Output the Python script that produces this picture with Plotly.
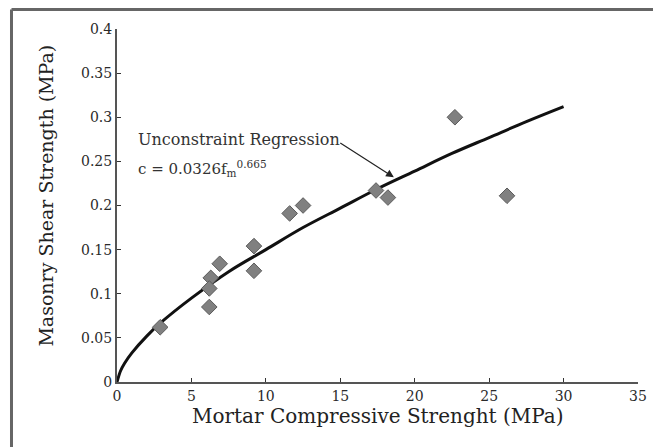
import plotly.graph_objects as go

# Measured data points (mortar compressive strength vs masonry shear strength)
fm = [2.9, 6.2, 6.3, 6.2, 6.9, 9.2, 9.2, 11.6, 12.5, 17.4, 18.2, 22.7, 26.2]
tau = [0.062, 0.085, 0.118, 0.106, 0.134, 0.154, 0.126, 0.191, 0.200, 0.217, 0.209, 0.300, 0.211]

# Regression curve values
curve_x = [0, 0.25, 0.5, 1, 2, 3, 5, 7.5, 10, 12.5, 15, 17.5, 20, 22.5, 25, 27.5, 30]
curve_y = [0.0, 0.013, 0.021, 0.033, 0.052, 0.068, 0.095, 0.125, 0.150, 0.175, 0.197, 0.219, 0.239, 0.259, 0.277, 0.295, 0.312]

x_ticks = [0, 5, 10, 15, 20, 25, 30, 35]
y_ticks = [0, 0.05, 0.1, 0.15, 0.2, 0.25, 0.3, 0.35, 0.4]
y_tick_labels = ["0", "0.05", "0.1", "0.15", "0.2", "0.25", "0.3", "0.35", "0.4"]

serif = "DejaVu Serif"
txt = "#2a2a2a"

fig = go.Figure()
fig.add_trace(go.Scatter(
    x=curve_x, y=curve_y, mode="lines", line=dict(color="#111111", width=3, shape="spline"),
    showlegend=False))
fig.add_trace(go.Scatter(
    x=fm, y=tau, mode="markers",
    marker=dict(symbol="diamond", size=12, color="#808080",
                line=dict(color="#5a5a5a", width=1)),
    showlegend=False, cliponaxis=False))

fig.update_layout(
    width=653, height=439,
    margin=dict(l=109, r=23, t=21, b=65),
    paper_bgcolor="white", plot_bgcolor="white",
    font=dict(family=serif, size=13, color=txt),
    xaxis=dict(range=[0, 35], tickvals=x_ticks, ticks="inside", ticklen=4,
               tickcolor="#333", showline=True, linecolor="#555", linewidth=2,
               showgrid=False, zeroline=False, tickfont=dict(size=14, family=serif, color=txt)),
    yaxis=dict(range=[0, 0.4], tickvals=y_ticks, ticktext=y_tick_labels,
               ticks="inside", ticklen=4, tickcolor="#333",
               showline=True, linecolor="#555", linewidth=2,
               showgrid=False, zeroline=False, tickfont=dict(size=14, family=serif, color=txt)),
)

# Axis titles
fig.add_annotation(x=0.5, y=0, xref="paper", yref="paper", yshift=-34,
                   xanchor="center", yanchor="middle", showarrow=False,
                   text="Mortar Compressive Strenght (MPa)",
                   font=dict(size=20, family=serif, color="#222"))
fig.add_annotation(x=0, y=0.528, xref="paper", yref="paper", xshift=-71,
                   xanchor="center", yanchor="middle", showarrow=False, textangle=-90,
                   text="Masonry Shear Strength (MPa)",
                   font=dict(size=19, family=serif, color="#222"))

# Outer frame (top and left)
for shp in [
    dict(x0=-0.2025, x1=1.1, y0=1.0554, y1=1.0554),
    dict(x0=-0.2025, x1=-0.2025, y0=1.0554, y1=-0.3),
]:
    fig.add_shape(type="line", xref="paper", yref="paper", line=dict(color="#666", width=3), **shp)

# Annotation with arrow
fig.add_annotation(x=18.6, y=0.232, ax=14.9, ay=0.272, xref="x", yref="y", axref="x", ayref="y",
                   text="", showarrow=True, arrowhead=2, arrowsize=1.3, arrowwidth=1.2,
                   arrowcolor="#222")
fig.add_annotation(x=1.3, y=0.275, xref="x", yref="y", xanchor="left", yanchor="middle",
                   text="Unconstraint Regression", showarrow=False,
                   font=dict(size=16, family=serif, color="#333"))
fig.add_annotation(x=1.3, y=0.242, xref="x", yref="y", xanchor="left", yanchor="middle",
                   text="c = 0.0326f<sub>m</sub><sup>0.665</sup>", showarrow=False,
                   font=dict(size=15, family=serif, color="#333"))

fig.write_html("out.html")
